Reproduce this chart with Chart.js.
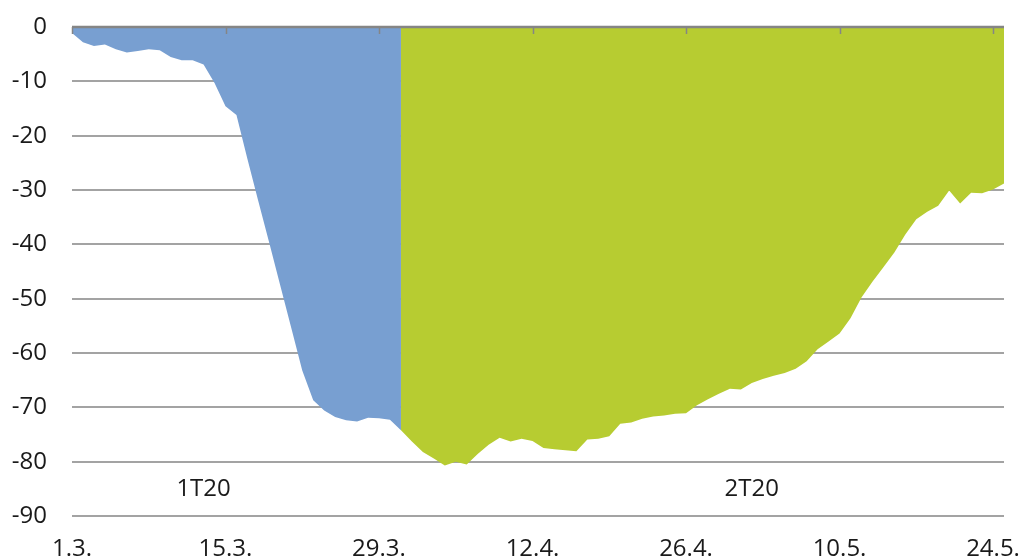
<!DOCTYPE html>
<html>
<head>
<meta charset="utf-8">
<script src="https://cdn.jsdelivr.net/npm/chart.js@4/dist/chart.umd.min.js"></script>
<style>
  html, body { margin: 0; padding: 0; background: #fff; }
  #wrap { width: 1022px; height: 557px; position: relative; }
</style>
</head>
<body>
<div id="wrap"><canvas id="c" width="1022" height="557"></canvas></div>
<script>
// Daily categories from 1 March to 25 May
const startDay = new Date(2020, 2, 1);
const dayCount = 86;
const categories = [];
for (let i = 0; i < dayCount; i++) {
  const d = new Date(startDay.getTime() + i * 86400000);
  categories.push(d.getDate() + '.' + (d.getMonth() + 1) + '.');
}

// Labelled ticks on the date axis
const tickLabels = ['1.3.', '15.3.', '29.3.', '12.4.', '26.4.', '10.5.', '24.5.'];

// Value-axis ticks
const yTicks = [0, -10, -20, -30, -40, -50, -60, -70, -80, -90];

// Quarter 1 (1.3. - 31.3.)
const q1Values = [
  -1.1, -2.8, -3.5, -3.2, -4.1, -4.7, -4.4, -4.1, -4.3, -5.5,
  -6.1, -6.1, -6.9, -10.3, -14.6, -16.2, -24.3, -32.1, -39.8, -47.6,
  -55.4, -63.2, -68.7, -70.6, -71.8, -72.4, -72.6, -71.9, -72.0, -72.3,
  -74.2
];

// Quarter 2 (31.3. - 25.5.)
const q2Values = [
  -74.2, -76.3, -78.2, -79.4, -80.7, -80.0, -80.5, -78.6, -76.9, -75.6,
  -76.3, -75.8, -76.2, -77.5, -77.7, -77.9, -78.1, -75.9, -75.8, -75.3,
  -73.0, -72.8, -72.1, -71.7, -71.5, -71.2, -71.1, -69.6, -68.5, -67.5,
  -66.6, -66.7, -65.5, -64.8, -64.2, -63.7, -62.9, -61.5, -59.3, -57.9,
  -56.4, -53.6, -49.8, -46.9, -44.2, -41.5, -38.2, -35.4, -34.0, -32.9,
  -30.1, -32.5, -30.5, -30.6, -29.9, -28.8
];

// Quarter captions and where they sit
const quarterNames = ['1T20', '2T20'];
const quarterAt = [12, 62];
const quarterLevel = -85;

const q1Start = 0;
const q2Start = 30;

const q1Series = categories.map((_, i) => (i >= q1Start && i - q1Start < q1Values.length) ? q1Values[i - q1Start] : null);
const q2Series = categories.map((_, i) => (i >= q2Start && i - q2Start < q2Values.length) ? q2Values[i - q2Start] : null);

const FONT = "'Open Sans', 'DejaVu Sans', sans-serif";
const FONT_SIZE = 24;

// Zero axis line with its tick marks, and the quarter captions
const overlay = {
  id: 'overlay',
  afterDatasetsDraw(chart) {
    const { ctx, chartArea, scales } = chart;
    const x = scales.x, y = scales.y;
    const y0 = y.getPixelForValue(0);
    ctx.save();
    ctx.strokeStyle = '#858585';
    ctx.lineWidth = 2.5;
    ctx.beginPath();
    ctx.moveTo(chartArea.left, y0);
    ctx.lineTo(chartArea.right, y0);
    ctx.stroke();
    ctx.lineWidth = 1.5;
    categories.forEach((lab, i) => {
      if (tickLabels.includes(lab)) {
        const px = Math.round(x.getPixelForValue(i)) + 0.5;
        ctx.beginPath();
        ctx.moveTo(px, y0);
        ctx.lineTo(px, y0 + 7);
        ctx.stroke();
      }
    });
    ctx.fillStyle = '#1a1a1a';
    ctx.font = FONT_SIZE + 'px ' + FONT;
    ctx.textAlign = 'center';
    ctx.textBaseline = 'middle';
    quarterNames.forEach((t, k) => {
      ctx.fillText(t, x.getPixelForValue(quarterAt[k]), y.getPixelForValue(quarterLevel));
    });
    ctx.restore();
  }
};

new Chart(document.getElementById('c'), {
  type: 'line',
  data: {
    labels: categories,
    datasets: [
      {
        label: '1T20',
        data: q1Series,
        fill: 'origin',
        backgroundColor: '#789fd1',
        borderWidth: 0,
        pointRadius: 0,
        tension: 0,
        spanGaps: false
      },
      {
        label: '2T20',
        data: q2Series,
        fill: 'origin',
        backgroundColor: '#b7cc31',
        borderWidth: 0,
        pointRadius: 0,
        tension: 0,
        spanGaps: false
      }
    ]
  },
  options: {
    responsive: false,
    animation: false,
    events: [],
    layout: { padding: { top: 27, right: 18, bottom: 0, left: 0 } },
    plugins: {
      legend: { display: false },
      tooltip: { enabled: false },
      title: { display: false }
    },
    scales: {
      x: {
        type: 'category',
        offset: false,
        grid: { display: false, drawTicks: false },
        border: { display: false },
        ticks: {
          autoSkip: false,
          maxRotation: 0,
          minRotation: 0,
          padding: 19,
          color: '#1a1a1a',
          font: { family: FONT, size: FONT_SIZE },
          callback: function (v, i) {
            const lab = categories[i];
            return tickLabels.includes(lab) ? lab : '';
          }
        },
        afterFit(scale) { scale.height = 41; scale.paddingLeft = 0; scale.paddingRight = 0; }
      },
      y: {
        min: -90,
        max: 0,
        afterBuildTicks(scale) { scale.ticks = yTicks.map(v => ({ value: v })); },
        grid: {
          drawTicks: false,
          color: ctx => ctx.tick && ctx.tick.value === 0 ? 'rgba(0,0,0,0)' : '#a3a3a3',
          lineWidth: 2
        },
        border: { display: false },
        ticks: {
          padding: 25,
          color: '#1a1a1a',
          font: { family: FONT, size: FONT_SIZE }
        },
        afterFit(scale) { scale.width = 72; scale.paddingTop = 0; scale.paddingBottom = 0; }
      }
    }
  },
  plugins: [overlay]
});
</script>
</body>
</html>
